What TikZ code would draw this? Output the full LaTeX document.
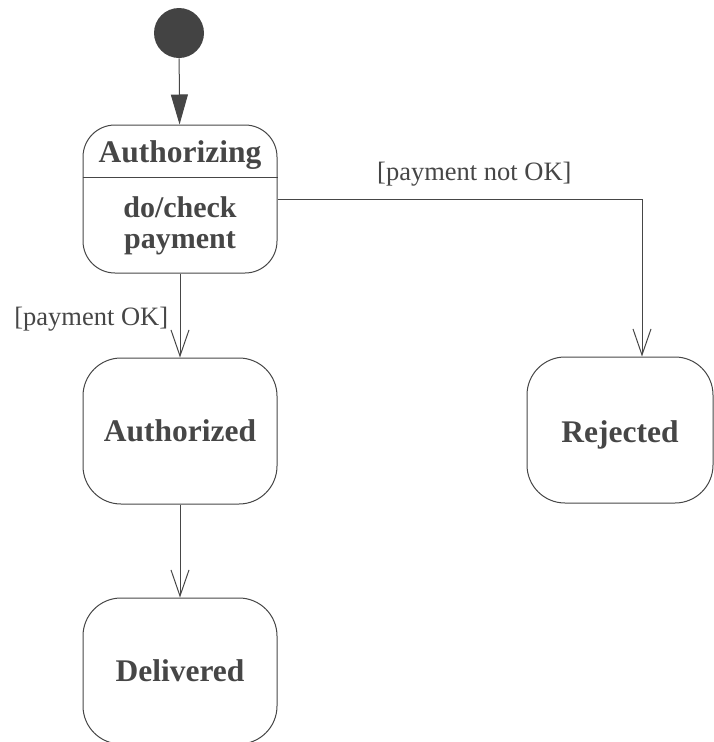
\documentclass[tikz,border=0pt]{standalone}
\usepackage{fontspec}
\setmainfont{Liberation Serif}
\usepackage{xcolor}
\usepackage{tikz}
\usetikzlibrary{shapes,arrows.meta,positioning}
\definecolor{inkGray}{RGB}{70, 70, 70}

\begin{document}
\begin{tikzpicture}[x=1pt, y=-1pt, thick, every node/.style={font=\fontsize{26.5}{31}\selectfont, text=inkGray}]
    \tikzstyle{state} = [rectangle, draw=inkGray, line width=1pt, text centered, rounded corners=38pt, minimum width=194pt, minimum height=146pt, font=\fontsize{31.5}{32}\selectfont\bfseries]
    \tikzstyle{initial} = [circle, fill=inkGray!95!black, draw=none, minimum size=50pt, inner sep=0pt]
    \tikzstyle{line} = [draw=inkGray, line width=1pt, -{Straight Barb[length=26pt, width=18pt]}]
    \tikzstyle{startline} = [draw=inkGray, line width=1pt, -{Triangle[length=30pt, width=17pt]}]

    \useasboundingbox (0,0) rectangle (713,742);

    \node [initial] (start) at (179,33) {};
    \node [state, rounded corners=32pt, minimum height=148pt] (auth) at (180,199) {};
    \node [font=\fontsize{31.5}{32}\selectfont\bfseries] (authname) at (180,155) {Authorizing};
    \node [font=\fontsize{30}{31}\selectfont\bfseries, align=center] (authdo) at (180,226) {do/check\\payment};
    \node [state, below=84pt of auth] (authd) {Authorized};
    \node [state, below=93pt of authd] (deliv) {Delivered};
    \node [state, minimum width=186pt] (rej) at (620,430) {\raisebox{-2pt}[20pt][0pt]{Rejected}};

    \draw [draw=inkGray, line width=1pt] ([yshift=-53pt]auth.north west) -- ([yshift=-53pt]auth.north east);

    \path [startline] (start) -- (auth);
    \path [line] (auth) -- node [left=8pt, pos=0.54] (okLabel) {[payment OK]} (authd);
    \path [line] (authd) -- (deliv);
    \path [line] (auth.east) -| node [above=9pt, pos=0.27] (notOkLabel) {[payment not OK]} ([xshift=22pt]rej.north);
\end{tikzpicture}
\end{document}
